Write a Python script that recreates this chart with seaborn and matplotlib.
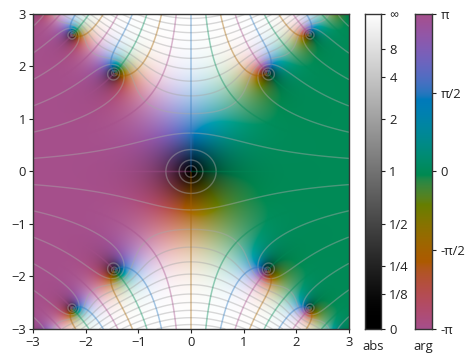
import numpy as np
import matplotlib
matplotlib.use("Agg")
import matplotlib.pyplot as plt
import seaborn as sns

# axis ticks
axis_ticks = [-3, -2, -1, 0, 1, 2, 3]
axis_labels = ["\u22123", "\u22122", "\u22121", "0", "1", "2", "3"]

# colorbar ticks
abs_ticks = [0, 1/8, 1/4, 1/2, 1, 2, 4, 8, np.inf]
abs_labels = ["0", "1/8", "1/4", "1/2", "1", "2", "4", "8", "\u221e"]
arg_ticks = [-np.pi, -np.pi/2, 0, np.pi/2, np.pi]
arg_labels = ["-\u03c0", "-\u03c0/2", "0", "\u03c0/2", "\u03c0"]

# contour levels
abs_levels = [-3, -2, -1, 0, 1, 2, 3, 4, 5, 6, 7, 8, 9, 10, 11, 12]
arg_levels = [-np.pi/2, 0, np.pi/2, np.pi]

HUE_OFFSET = 0.89 * np.pi
CHROMA = 0.135


def erf(z):
    # power series, no scipy here
    term = z.copy()
    total = z.copy()
    for n in range(1, 160):
        term = term * (-z * z) / n
        total = total + term / (2 * n + 1)
    return 2 / np.sqrt(np.pi) * total


def oklab_to_srgb(L, a, b):
    l = (L + 0.3963377774 * a + 0.2158037573 * b) ** 3
    m = (L - 0.1055613458 * a - 0.0638541728 * b) ** 3
    s = (L - 0.0894841775 * a - 1.2914855480 * b) ** 3
    r = 4.0767416621 * l - 3.3077115913 * m + 0.2309699292 * s
    g = -1.2684380046 * l + 2.6097574011 * m - 0.3413193965 * s
    bl = -0.0041960863 * l - 0.7034186147 * m + 1.7076147010 * s
    rgb = np.clip(np.stack([r, g, bl], axis=-1), 0, 1)
    return np.where(rgb <= 0.0031308, 12.92 * rgb, 1.055 * rgb ** (1 / 2.4) - 0.055)


def colorize(h, angle):
    # h is abs scaled to 0..1
    rd = CHROMA * (1 - 2 * np.abs(h - 0.5))
    return oklab_to_srgb(h ** 0.85, rd * np.cos(angle + HUE_OFFSET), rd * np.sin(angle + HUE_OFFSET))


def scale_abs(r):
    r = np.asarray(r, dtype=float)
    return np.where(np.isinf(r), 1.0, r / (r + 1))


sns.set_style("ticks")
plt.rcParams["font.family"] = ["Open Sans", "DejaVu Sans"]
plt.rcParams["font.size"] = 9.4
plt.rcParams["text.color"] = "#222222"
plt.rcParams["axes.labelcolor"] = "#222222"
plt.rcParams["axes.edgecolor"] = "#333333"
plt.rcParams["axes.linewidth"] = 1.0
plt.rcParams["xtick.color"] = "#222222"
plt.rcParams["ytick.color"] = "#222222"
plt.rcParams["contour.negative_linestyle"] = "solid"

W, H = 474, 362
fig = plt.figure(figsize=(W / 100, H / 100), dpi=100)


def add_axes(x0, y0, x1, y1):
    return fig.add_axes([x0 / W, 1 - y1 / H, (x1 - x0) / W, (y1 - y0) / H])


ax = add_axes(33, 14, 349, 329)
cax_abs = add_axes(365, 14, 381, 329)
cax_arg = add_axes(415, 14, 432, 329)

x = np.linspace(-3, 3, 801)
X, Y = np.meshgrid(x, x)
Z = X + 1j * Y
f = erf(Z)
mag = np.abs(f)
ang = np.angle(f)

ax.imshow(colorize(scale_abs(mag), ang), extent=(-3, 3, -3, 3), origin="lower",
          interpolation="bilinear", aspect="auto")

with np.errstate(divide="ignore"):
    ax.contour(X, Y, np.log2(mag), levels=abs_levels, colors="#a8a8a8", alpha=0.45, linewidths=1.0)

for level in arg_levels:
    rot = f * np.exp(-1j * level)
    im = np.ma.masked_where(rot.real < 0, rot.imag)
    col = colorize(np.array(0.5), np.array(level))
    ax.contour(X, Y, im, levels=[0], colors=[col], alpha=0.4, linewidths=1.1)

ax.set_xlim(-3, 3)
ax.set_ylim(-3, 3)
ax.set_xticks(axis_ticks, axis_labels)
ax.set_yticks(axis_ticks, axis_labels)
ax.tick_params(length=3, width=0.8, pad=2)

# abs colorbar
h = np.linspace(0, 1, 400)
gray = oklab_to_srgb(h ** 0.85, np.zeros_like(h), np.zeros_like(h))
cax_abs.imshow(gray[:, None, :], extent=(0, 1, 0, 1), origin="lower", aspect="auto")
cax_abs.set_xticks([])
cax_abs.yaxis.tick_right()
cax_abs.set_yticks(scale_abs(abs_ticks), abs_labels)
cax_abs.tick_params(length=3, width=0.8, pad=3)
cax_abs.set_xlabel("abs", labelpad=8)

# arg colorbar
a = np.linspace(-np.pi, np.pi, 400)
cax_arg.imshow(colorize(np.full_like(a, 0.5), a)[:, None, :], extent=(0, 1, -np.pi, np.pi),
               origin="lower", aspect="auto")
cax_arg.set_xticks([])
cax_arg.yaxis.tick_right()
cax_arg.set_yticks(arg_ticks, arg_labels)
cax_arg.tick_params(length=3, width=0.8, pad=3)
cax_arg.set_xlabel("arg", labelpad=8)

fig.savefig("out.png", dpi=100)
